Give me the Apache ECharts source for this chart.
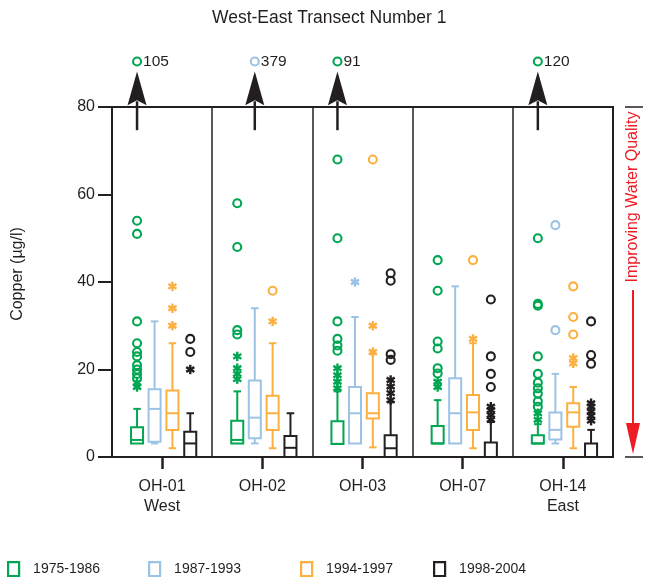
<!DOCTYPE html>
<html>
<head>
<meta charset="utf-8">
<title>West-East Transect Number 1</title>
<script src="https://cdn.jsdelivr.net/npm/echarts@6/dist/echarts.min.js"></script>
<style>
  html, body { margin: 0; padding: 0; background: #fff; }
  #chart { width: 645px; height: 577px; }
</style>
</head>
<body>
<div id="chart"></div>
<script>
// Sites along the transect and sampling periods
const sites = ['OH-01\nWest', 'OH-02', 'OH-03', 'OH-07', 'OH-14\nEast'];
const periods = ['1975-1986', '1987-1993', '1994-1997', '1998-2004'];
const yTicks = { min: 0, max: 80, step: 20 };

// Box statistics per site: [min, q1, median, q3, max] (µg/l)
const box1975 = [[3.1, 3.1, 3.9, 6.8, 11], [3.1, 3.1, 3.9, 8.3, 15], [3.0, 3.0, 3.0, 8.2, 15], [3.1, 3.1, 3.1, 7.1, 13], [3.1, 3.1, 3.1, 5.0, 7.5]];
const box1987 = [[3.1, 3.5, 11, 15.5, 31], [3.1, 4.3, 9, 17.5, 34], [3.1, 3.1, 10, 16, 32], [3.1, 3.1, 10, 18, 39], [3.1, 4.0, 6.2, 10.2, 19]];
const box1994 = [[2, 6.2, 10, 15.2, 26], [2, 6.2, 10, 14, 26], [2.2, 8.8, 10, 14.6, 23.5], [2, 6.2, 10.2, 14.2, 26], [2, 6.9, 10.2, 12.3, 16]];
const box1998 = [[0, 0, 3.1, 5.8, 10], [0, 0, 2.1, 4.8, 10], [0, 0, 2.0, 5.0, 12.5], [0, 0, 0, 3.3, 8], [0, 0, 0, 3.1, 6.2]];

// Far outside values (circles) per site
const circ1975 = [[54, 51, 31, 26, 24, 23, 21, 20, 19, 18], [58, 48, 29, 28], [68, 50, 31, 27, 25.5, 24.3], [45, 38, 26.4, 24.8, 20.3, 19.1], [50, 35, 34.6, 23, 19, 17, 15.7, 14.5, 12.7, 11.5]];
const circ1987 = [[], [], [], [], [53, 29]];
const circ1994 = [[], [38], [68], [45], [39, 32, 28]];
const circ1998 = [[27, 24], [], [42, 40.3, 23.5, 22.2], [36, 23, 19, 16], [31, 23.3, 21.3]];

// Outside values (asterisks) per site
const ast1975 = [[17, 16], [23, 20.3, 19, 17.8], [20.3, 18.7, 17.2, 15.7], [17.2, 16], [10, 8.5]];
const ast1987 = [[], [], [40], [], []];
const ast1994 = [[39, 34, 30], [31], [30, 24], [27], [22.6, 21.4]];
const ast1998 = [[20], [], [17.6, 16.1, 14.6, 13], [11.5, 10.7, 9.6, 8.5], [12.3, 11.5, 10.4, 9.4, 8.3]];

// Maximum values that fall above the plotted range
const off1975 = [105, null, 91, null, 120];
const off1987 = [null, 379, null, null, null];

const FONT = 'Liberation Sans, Arial, Helvetica, sans-serif';
const INK = '#231f20';
const colors = ['#00a651', '#9cc3e5', '#fbb040', '#231f20'];
const offsets = [-0.25, -0.075, 0.103, 0.281];   // box centre offsets, fraction of a band
const legendLeft = [7, 148, 300, 433];

const groups = [
  { box: box1975, circ: circ1975, ast: ast1975, off: off1975 },
  { box: box1987, circ: circ1987, ast: ast1987, off: off1987 },
  { box: box1994, circ: circ1994, ast: ast1994, off: null },
  { box: box1998, circ: circ1998, ast: ast1998, off: null }
];

function xAt(api, offset) {
  const i = api.value(0);
  const band = api.size([1, 0])[0];
  return { x: api.coord([i, 0])[0] + offset * band, band: band, i: i };
}

function boxRenderer(offset, color) {
  return function (params, api) {
    const p = xAt(api, offset);
    const w = p.band * 0.12, cap = p.band * 0.075;
    const ys = [1, 2, 3, 4, 5].map(k => api.coord([p.i, api.value(k)])[1]);
    const [yMin, yQ1, yMed, yQ3, yMax] = ys;
    const st = { stroke: color, lineWidth: 2, fill: null };
    const ch = [];
    if (yMax < yQ3 - 0.5) {
      ch.push({ type: 'line', shape: { x1: p.x, y1: yQ3, x2: p.x, y2: yMax }, style: st });
      ch.push({ type: 'line', shape: { x1: p.x - cap / 2, y1: yMax, x2: p.x + cap / 2, y2: yMax }, style: st });
    }
    if (yMin > yQ1 + 0.5) {
      ch.push({ type: 'line', shape: { x1: p.x, y1: yQ1, x2: p.x, y2: yMin }, style: st });
      ch.push({ type: 'line', shape: { x1: p.x - cap / 2, y1: yMin, x2: p.x + cap / 2, y2: yMin }, style: st });
    }
    ch.push({ type: 'rect', shape: { x: p.x - w / 2, y: yQ3, width: w, height: yQ1 - yQ3 }, style: st });
    ch.push({ type: 'line', shape: { x1: p.x - w / 2, y1: yMed, x2: p.x + w / 2, y2: yMed }, style: st });
    return { type: 'group', children: ch };
  };
}

function circleRenderer(offset, color) {
  return function (params, api) {
    const p = xAt(api, offset);
    const y = api.coord([p.i, api.value(1)])[1];
    return { type: 'circle', shape: { cx: p.x, cy: y, r: 4 }, style: { fill: null, stroke: color, lineWidth: 2.1 } };
  };
}

function starRenderer(offset, color) {
  return function (params, api) {
    const p = xAt(api, offset);
    const y = api.coord([p.i, api.value(1)])[1];
    const r = 4.7, ch = [];
    [90, 30, 150].forEach(a => {
      const dx = r * Math.cos(a * Math.PI / 180), dy = r * Math.sin(a * Math.PI / 180);
      ch.push({ type: 'line', shape: { x1: p.x - dx, y1: y - dy, x2: p.x + dx, y2: y + dy }, style: { stroke: color, lineWidth: 2.4 } });
    });
    return { type: 'group', children: ch };
  };
}

// Off-scale maxima: arrow above the frame, marker and the value as text
const OFF_MARK = 90.4, ARROW_TIP = 88.1, ARROW_BASE = 80.4, ARROW_TAIL = 74.7;
function offRenderer(offset, color) {
  return function (params, api) {
    const p = xAt(api, offset);
    const yc = v => api.coord([p.i, v])[1];
    const yMark = yc(OFF_MARK), yTip = yc(ARROW_TIP), yBase = yc(ARROW_BASE), yTail = yc(ARROW_TAIL);
    return {
      type: 'group',
      children: [
        { type: 'line', shape: { x1: p.x, y1: yTail, x2: p.x, y2: yBase - 4 }, style: { stroke: INK, lineWidth: 2.5 } },
        { type: 'polygon', shape: { points: [[p.x, yTip], [p.x + 9.5, yBase], [p.x, yBase - 5], [p.x - 9.5, yBase]] }, style: { fill: INK } },
        { type: 'circle', shape: { cx: p.x, cy: yMark, r: 4 }, style: { fill: null, stroke: color, lineWidth: 2.1 } },
        { type: 'text', style: { text: String(api.value(1)), x: p.x + 6, y: yMark, verticalAlign: 'middle', align: 'left', fontSize: 15.5, fontFamily: FONT, fill: INK } }
      ]
    };
  };
}

const flatten = arr => arr.flatMap((vals, i) => vals.map(v => [i, v]));

const series = [];
groups.forEach((g, k) => {
  const name = periods[k], c = colors[k], o = offsets[k];
  series.push({ type: 'custom', name: name, renderItem: boxRenderer(o, c), data: g.box.map((b, i) => [i].concat(b)), z: 3 });
  series.push({ type: 'custom', name: name, renderItem: circleRenderer(o, c), data: flatten(g.circ), z: 4 });
  series.push({ type: 'custom', name: name, renderItem: starRenderer(o, c), data: flatten(g.ast), z: 4 });
  if (g.off) {
    series.push({ type: 'custom', name: name, renderItem: offRenderer(o, c), data: g.off.map((v, i) => [i, v]).filter(d => d[1] !== null), z: 5 });
  }
});

const chart = echarts.init(document.getElementById('chart'), null, { renderer: 'canvas' });

chart.setOption({
  animation: false,
  backgroundColor: '#fff',
  textStyle: { fontFamily: FONT, color: INK },
  title: {
    text: 'West-East Transect Number 1',
    left: 212, top: 9, padding: 0,
    textStyle: { fontSize: 17.5, fontWeight: 'normal', color: INK, fontFamily: FONT }
  },
  legend: periods.map((p, k) => ({
    data: [{ name: p, icon: 'rect', itemStyle: { color: 'rgba(255,255,255,0)', borderColor: colors[k], borderWidth: 2.2 } }],
    left: legendLeft[k], top: 561, padding: 0,
    itemWidth: 11, itemHeight: 14,
    selectedMode: false,
    textStyle: { fontSize: 14, color: INK, fontFamily: FONT, padding: [0, 0, 0, 9] }
  })),
  grid: {
    left: 112, right: 32, top: 107, bottom: 120,
    show: true, borderColor: INK, borderWidth: 2, backgroundColor: 'transparent'
  },
  xAxis: {
    type: 'category',
    data: sites,
    boundaryGap: true,
    axisLine: { show: true, lineStyle: { color: INK, width: 2 } },
    axisTick: { show: true, alignWithLabel: true, length: 12, lineStyle: { color: INK, width: 2.5 } },
    axisLabel: { fontSize: 16, lineHeight: 19.5, margin: 20, color: INK, fontFamily: FONT },
    splitLine: { show: true, lineStyle: { color: INK, width: 1.5 } }
  },
  yAxis: {
    type: 'value',
    min: yTicks.min, max: yTicks.max, interval: yTicks.step,
    axisLine: { show: true, lineStyle: { color: INK, width: 2 } },
    axisTick: { show: true, length: 14, lineStyle: { color: INK, width: 2 } },
    axisLabel: { fontSize: 16, margin: 17, color: INK, fontFamily: FONT },
    splitLine: { show: false },
    name: 'Copper (µg/l)',
    nameLocation: 'middle',
    nameGap: 86,
    nameTextStyle: { fontSize: 16, color: INK, fontFamily: FONT, padding: [0, 0, 0, 16] }
  },
  series: series
});

// Water-quality direction note on the right, tied to the y-axis ends
const yTop = chart.convertToPixel({ yAxisIndex: 0 }, yTicks.max);
const yBot = chart.convertToPixel({ yAxisIndex: 0 }, yTicks.min);
const RED = '#ed1c24';
const noteX = 633;
chart.setOption({
  graphic: [
    { type: 'line', shape: { x1: 625, y1: yTop, x2: 643, y2: yTop }, style: { stroke: INK, lineWidth: 1.5 } },
    { type: 'line', shape: { x1: 625, y1: yBot, x2: 643, y2: yBot }, style: { stroke: INK, lineWidth: 1.5 } },
    { type: 'text', x: noteX, y: yTop + 90, rotation: Math.PI / 2,
      style: { text: 'Improving Water Quality', fontSize: 16, fontFamily: FONT, fill: RED, align: 'center', verticalAlign: 'middle' } },
    { type: 'line', shape: { x1: noteX, y1: yTop + 183, x2: noteX, y2: yBot - 30 }, style: { stroke: RED, lineWidth: 2 } },
    { type: 'polygon', shape: { points: [[noteX - 7, yBot - 34], [noteX + 7, yBot - 34], [noteX, yBot - 3]] }, style: { fill: RED } }
  ]
});
</script>
</body>
</html>
